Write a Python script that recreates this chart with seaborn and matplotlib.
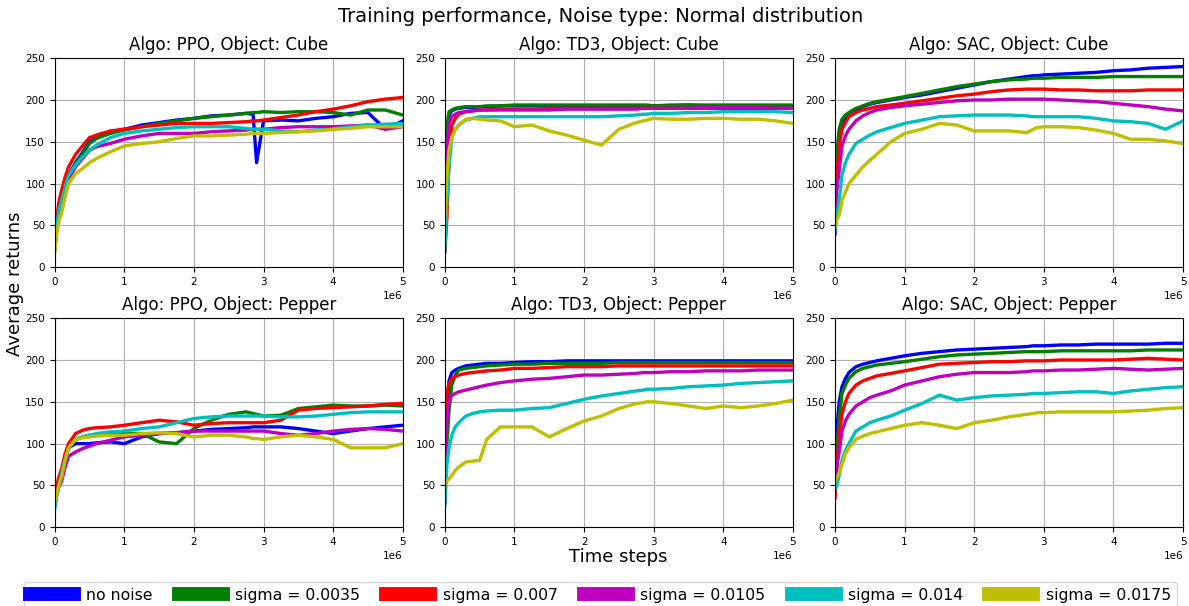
import numpy as np
import pandas as pd
import matplotlib
matplotlib.use("Agg")
import matplotlib.pyplot as plt
from matplotlib.lines import Line2D
import seaborn as sns

# time grid in millions of steps
steps_m = [0, 0.03, 0.06, 0.1, 0.15, 0.2, 0.3, 0.4, 0.5, 0.6, 0.8, 1.0, 1.25, 1.5, 1.75,
           2.0, 2.25, 2.5, 2.75, 2.85, 2.9, 3.0, 3.25, 3.5, 3.75, 4.0, 4.25, 4.5, 4.75, 5.0]

noise_labels = ["no noise", "sigma = 0.0035", "sigma = 0.007", "sigma = 0.0105",
                "sigma = 0.014", "sigma = 0.0175"]
colors = ["b", "g", "r", "m", "c", "y"]

titles = ["Algo: PPO, Object: Cube", "Algo: TD3, Object: Cube", "Algo: SAC, Object: Cube",
          "Algo: PPO, Object: Pepper", "Algo: TD3, Object: Pepper", "Algo: SAC, Object: Pepper"]

ppo_cube = [
    [30, 55, 72, 85, 100, 110, 125, 137, 150, 155, 162, 165, 170, 173, 176, 178, 181, 182, 184, 183, 125, 175, 176, 175, 178, 180, 184, 185, 165, 175],
    [28, 52, 70, 84, 98, 108, 124, 135, 148, 154, 160, 164, 168, 172, 175, 178, 180, 182, 184, 185, 185, 186, 185, 186, 186, 185, 182, 188, 188, 182],
    [30, 58, 78, 92, 108, 120, 135, 145, 155, 158, 163, 165, 168, 170, 172, 172, 172, 173, 174, 175, 175, 176, 179, 182, 186, 189, 193, 198, 201, 203],
    [20, 45, 62, 75, 92, 105, 120, 130, 140, 144, 148, 153, 157, 160, 160, 160, 162, 163, 164, 165, 165, 165, 167, 168, 168, 168, 169, 170, 165, 168],
    [20, 50, 68, 80, 96, 110, 122, 132, 140, 146, 155, 160, 163, 165, 167, 168, 168, 168, 166, 165, 165, 165, 163, 162, 164, 165, 168, 170, 171, 172],
    [18, 40, 55, 65, 85, 100, 112, 118, 125, 130, 138, 145, 148, 150, 154, 157, 157, 158, 159, 160, 160, 160, 161, 162, 163, 165, 166, 168, 168, 168],
]
td3_cube = [
    [20, 150, 182, 187, 189, 190, 191, 191, 192, 192, 193, 193, 193, 193, 193, 193, 193, 193, 193, 193, 193, 193, 193, 194, 193, 193, 193, 193, 193, 193],
    [30, 170, 186, 188, 190, 191, 192, 192, 192, 193, 193, 194, 194, 194, 194, 194, 194, 194, 194, 194, 194, 193, 194, 194, 194, 194, 194, 194, 194, 194],
    [18, 60, 130, 170, 178, 183, 186, 187, 188, 188, 189, 189, 189, 190, 190, 190, 190, 190, 190, 190, 190, 190, 190, 190, 190, 190, 190, 190, 190, 190],
    [40, 140, 172, 180, 183, 185, 186, 187, 188, 188, 188, 188, 188, 188, 189, 189, 189, 189, 189, 190, 190, 190, 190, 190, 191, 191, 191, 191, 190, 190],
    [20, 80, 120, 155, 165, 170, 176, 178, 180, 180, 180, 180, 180, 180, 180, 180, 180, 181, 182, 183, 183, 184, 184, 185, 185, 186, 186, 186, 186, 185],
    [60, 110, 140, 155, 165, 170, 177, 178, 177, 176, 175, 168, 170, 163, 158, 152, 146, 165, 173, 175, 176, 178, 177, 177, 178, 178, 177, 177, 175, 172],
]
sac_cube = [
    [40, 120, 155, 170, 178, 183, 188, 192, 195, 197, 200, 203, 206, 210, 214, 218, 222, 225, 228, 229, 229, 230, 231, 232, 233, 235, 236, 238, 239, 240],
    [60, 140, 165, 177, 182, 185, 190, 193, 196, 198, 201, 204, 208, 212, 216, 219, 222, 224, 225, 226, 226, 226, 227, 227, 227, 228, 228, 228, 228, 228],
    [70, 115, 145, 165, 173, 180, 185, 188, 190, 192, 194, 196, 199, 202, 205, 207, 210, 212, 213, 213, 213, 213, 212, 212, 211, 211, 211, 212, 212, 212],
    [70, 95, 115, 145, 157, 165, 175, 181, 185, 188, 191, 193, 195, 197, 199, 200, 200, 201, 201, 201, 201, 201, 200, 199, 198, 196, 194, 192, 189, 187],
    [45, 65, 80, 110, 125, 135, 148, 153, 158, 162, 167, 172, 176, 180, 181, 182, 182, 182, 181, 180, 180, 180, 180, 180, 178, 175, 174, 172, 165, 175],
    [50, 58, 62, 80, 90, 100, 110, 120, 128, 135, 150, 160, 165, 172, 170, 163, 163, 163, 161, 165, 167, 168, 168, 167, 164, 160, 153, 153, 151, 148],
]
ppo_pepper = [
    [25, 40, 50, 60, 80, 95, 100, 100, 100, 101, 102, 100, 108, 112, 113, 115, 117, 118, 119, 120, 120, 120, 120, 118, 115, 112, 115, 118, 120, 122],
    [30, 45, 55, 65, 82, 95, 105, 108, 110, 110, 111, 112, 112, 102, 100, 118, 128, 135, 138, 136, 135, 133, 134, 142, 144, 146, 145, 145, 146, 145],
    [40, 50, 60, 70, 88, 100, 112, 116, 118, 119, 120, 122, 125, 128, 126, 122, 124, 125, 125, 125, 125, 125, 128, 140, 142, 143, 144, 145, 147, 148],
    [30, 40, 48, 55, 72, 85, 90, 94, 97, 100, 104, 108, 110, 112, 113, 115, 115, 115, 115, 115, 115, 115, 112, 110, 112, 115, 117, 118, 117, 115],
    [22, 38, 50, 65, 82, 95, 105, 108, 110, 112, 114, 115, 118, 120, 125, 130, 132, 133, 133, 133, 133, 133, 132, 132, 133, 135, 137, 138, 138, 138],
    [30, 40, 50, 60, 80, 95, 105, 107, 108, 109, 110, 110, 112, 113, 112, 108, 110, 110, 108, 106, 106, 105, 108, 110, 108, 105, 95, 95, 95, 100],
]
td3_pepper = [
    [30, 140, 175, 185, 188, 190, 193, 194, 195, 196, 196, 197, 198, 198, 199, 199, 199, 199, 199, 199, 199, 199, 199, 199, 199, 199, 199, 199, 199, 199],
    [30, 100, 140, 170, 182, 188, 190, 191, 192, 193, 194, 195, 195, 196, 196, 196, 196, 197, 197, 197, 197, 197, 197, 197, 197, 197, 197, 197, 197, 197],
    [30, 160, 172, 178, 180, 182, 184, 185, 186, 187, 188, 190, 190, 191, 192, 192, 192, 193, 193, 193, 193, 193, 193, 193, 193, 193, 193, 193, 193, 193],
    [60, 130, 150, 158, 160, 162, 164, 166, 168, 170, 173, 175, 177, 178, 180, 182, 182, 183, 184, 185, 185, 185, 186, 186, 187, 187, 187, 188, 188, 188],
    [25, 75, 95, 110, 120, 125, 133, 136, 138, 139, 140, 140, 142, 143, 148, 153, 157, 160, 163, 164, 165, 165, 166, 168, 169, 170, 172, 173, 174, 175],
    [50, 55, 58, 62, 68, 72, 78, 79, 80, 105, 120, 120, 120, 108, 118, 127, 133, 142, 148, 149, 150, 150, 148, 145, 142, 145, 143, 145, 148, 152],
]
sac_pepper = [
    [80, 120, 150, 168, 178, 185, 192, 195, 197, 199, 202, 205, 208, 210, 212, 213, 214, 215, 216, 217, 217, 217, 218, 218, 219, 219, 219, 219, 220, 220],
    [60, 95, 130, 160, 170, 178, 186, 190, 192, 194, 196, 198, 201, 204, 206, 207, 208, 209, 210, 210, 210, 210, 211, 211, 211, 211, 211, 212, 212, 212],
    [35, 75, 110, 135, 150, 160, 170, 175, 178, 181, 184, 187, 191, 195, 196, 197, 198, 198, 199, 199, 199, 199, 200, 200, 200, 200, 201, 202, 201, 200],
    [60, 75, 90, 115, 127, 135, 145, 150, 155, 158, 163, 170, 175, 180, 183, 185, 185, 185, 186, 187, 187, 187, 188, 188, 189, 190, 189, 188, 189, 190],
    [45, 52, 62, 80, 92, 100, 115, 120, 125, 128, 133, 140, 148, 158, 152, 155, 157, 158, 159, 160, 160, 160, 161, 162, 162, 160, 163, 165, 167, 168],
    [55, 60, 65, 75, 88, 95, 105, 109, 112, 114, 118, 122, 125, 122, 118, 125, 128, 132, 135, 136, 137, 137, 138, 138, 138, 138, 139, 140, 142, 143],
]
panels = [ppo_cube, td3_cube, sac_cube, ppo_pepper, td3_pepper, sac_pepper]

plt.rcParams['font.family'] = ['DejaVu Sans']
fig, axes = plt.subplots(2, 3, figsize=(11.89, 6.06), dpi=100)
fig.subplots_adjust(left=0.046, right=0.995, top=0.904, bottom=0.130, wspace=0.121, hspace=0.244)

steps = np.array(steps_m) * 1e6
for ax, title, series in zip(axes.flat, titles, panels):
    rows = []
    for lab, vals in zip(noise_labels, series):
        for s, v in zip(steps, vals):
            rows.append((s, v, lab))
    df = pd.DataFrame(rows, columns=["step", "ret", "noise"])
    sns.lineplot(data=df, x="step", y="ret", hue="noise", hue_order=noise_labels,
                 palette=colors, estimator=None, sort=False, legend=False,
                 linewidth=2.4, ax=ax)
    ax.set_xlim(0, 5e6)
    ax.set_ylim(0, 250)
    ax.set_yticks([0, 50, 100, 150, 200, 250])
    ax.set_xticks([0, 1e6, 2e6, 3e6, 4e6, 5e6])
    ax.grid(True, color="#b0b0b0", linewidth=0.8)
    ax.set_axisbelow(True)
    ax.set_xlabel("")
    ax.set_ylabel("")
    ax.set_title(title, fontsize=12)
    ax.tick_params(labelsize=7.5)
    ax.xaxis.get_offset_text().set_fontsize(7.5)

fig.suptitle("Training performance, Noise type: Normal distribution", fontsize=14,
             x=0.505, y=0.988)
fig.text(0.013, 0.532, "Average returns", rotation=90, ha="center", va="center", fontsize=13)
fig.text(0.52, 0.081, "Time steps", ha="center", va="center", fontsize=13)

handles = [Line2D([0], [0], color=c, lw=10) for c in colors]
fig.legend(handles, noise_labels, ncol=6, loc="upper center", bbox_to_anchor=(0.505, 0.052),
           fontsize=11.3, handlelength=2.8, handletextpad=0.8, columnspacing=1.66,
           borderpad=0.35, frameon=True)

fig.savefig("out.png", dpi=100)
